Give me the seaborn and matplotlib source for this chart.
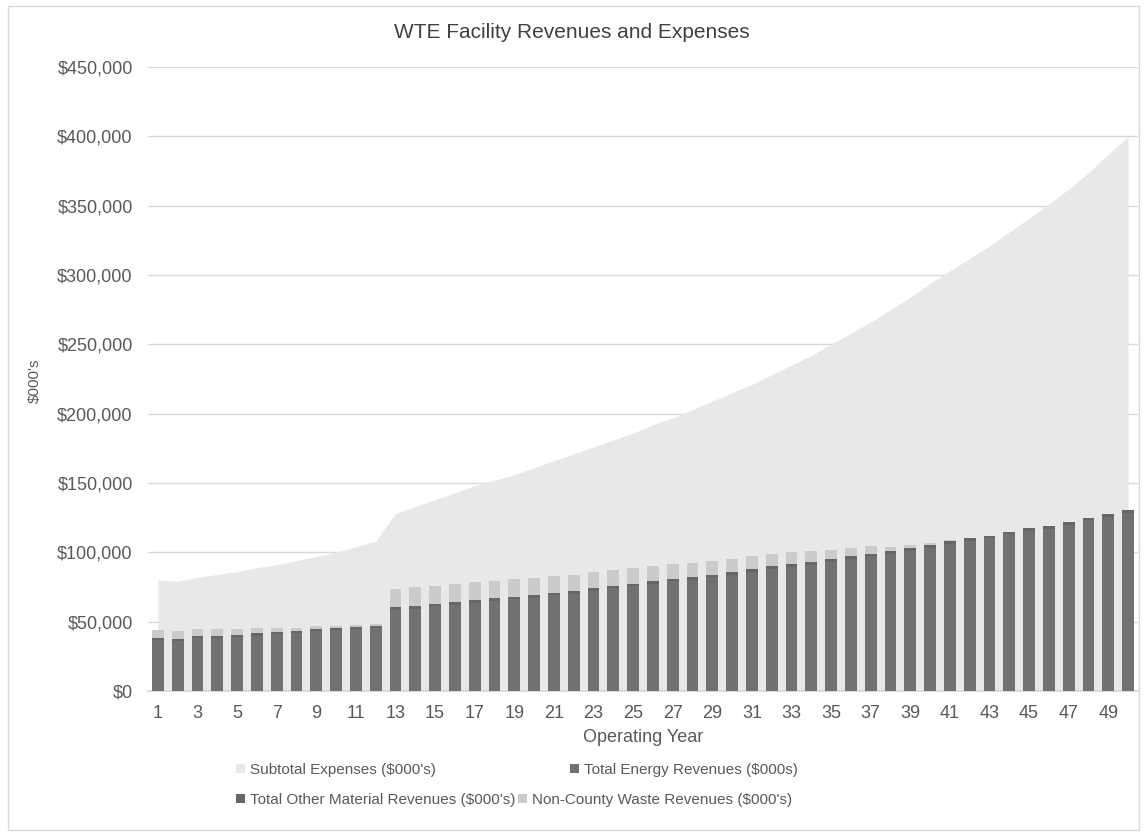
import numpy as np
import pandas as pd
import seaborn as sns
import matplotlib.pyplot as plt
from matplotlib.patches import Patch, Rectangle
from matplotlib.ticker import StrMethodFormatter

# values in $000's
years = list(range(1, 51))
subtotal_expenses = [80000, 79000, 82000, 84000, 86000, 89000, 91000, 94000, 97000, 100000,
                     104000, 108000, 128000, 133000, 138000, 143000, 148000, 152000, 156000, 161000,
                     166000, 171000, 176000, 181000, 186000, 192000, 197000, 203000, 209000, 215000,
                     221000, 228000, 235000, 242000, 250000, 258000, 266000, 275000, 284000, 294000,
                     303000, 312000, 321000, 331000, 341000, 351000, 362000, 374000, 387000, 400000]
energy_revenues = [36500, 36000, 38500, 38500, 39000, 40000, 41000, 41500, 43500, 44000,
                   44500, 45500, 58500, 59000, 61000, 62000, 63500, 65000, 66000, 67000,
                   69000, 70000, 72000, 74000, 75500, 77000, 79000, 80000, 82000, 84000,
                   86000, 88000, 89500, 91000, 93000, 95000, 97000, 99000, 101000, 103000,
                   106000, 108000, 110000, 113000, 115500, 117000, 120000, 123000, 125500, 128500]
other_material_revenues = [1500, 1500, 1500, 1500, 1500, 1500, 1500, 1500, 1500, 1500,
                           1500, 1500, 2000, 2000, 2000, 2000, 2000, 2000, 2000, 2000,
                           2000, 2000, 2000, 2000, 2000, 2000, 2000, 2000, 2000, 2000,
                           2000, 2000, 2000, 2000, 2000, 2000, 2000, 2000, 2000, 2000,
                           2000, 2000, 2000, 2000, 2000, 2000, 2000, 2000, 2000, 2000]
non_county_revenues = [6000, 6000, 5000, 5000, 4500, 4000, 3000, 2500, 2000, 1500,
                       1500, 1000, 13000, 14000, 13000, 13000, 13000, 12500, 12500, 12500,
                       12000, 12000, 12000, 11500, 11500, 11000, 10500, 10500, 10000, 9500,
                       9000, 8500, 8500, 8000, 7000, 6000, 5500, 3000, 2000, 1500,
                       1000, 0, 0, 0, 0, 0, 0, 0, 0, 0]

df = pd.DataFrame({
    "year": years,
    "expenses": subtotal_expenses,
    "energy": energy_revenues,
    "other": other_material_revenues,
    "noncounty": non_county_revenues,
})
df["top_other"] = df["energy"] + df["other"]
df["top_all"] = df["top_other"] + df["noncounty"]

c_area = "#e8e8e8"
c_energy = "#717171"
c_other = "#666666"
c_noncounty = "#cbcbcb"
txt = "#595959"

sns.set_theme(style="white")
plt.rcParams["font.family"] = ["Liberation Sans", "DejaVu Sans"]

fig = plt.figure(figsize=(11.45, 8.36), dpi=100)
ax = fig.add_axes([148 / 1145, 1 - 691 / 836, 990 / 1145, 624 / 836])

ax.fill_between(df["year"], df["expenses"], color=c_area, lw=0, zorder=1)

# stacked bars drawn as cumulative totals, back to front
sns.barplot(data=df, x="year", y="top_all", native_scale=True, color=c_noncounty,
            width=0.6, saturation=1, edgecolor="none", ax=ax, zorder=2)
sns.barplot(data=df, x="year", y="top_other", native_scale=True, color=c_other,
            width=0.6, saturation=1, edgecolor="none", ax=ax, zorder=3)
sns.barplot(data=df, x="year", y="energy", native_scale=True, color=c_energy,
            width=0.6, saturation=1, edgecolor="none", ax=ax, zorder=4)

ax.set_xlim(0.5, 50.5)
ax.set_ylim(0, 450000)
ax.set_yticks(np.arange(0, 450001, 50000))
ax.yaxis.set_major_formatter(StrMethodFormatter("${x:,.0f}"))
ax.set_xticks(years[::2])
ax.set_xticklabels([str(y) for y in years[::2]])
ax.grid(axis="y", color="#d9d9d9", lw=1, zorder=0)
ax.set_axisbelow(True)
for s in ["top", "right", "left"]:
    ax.spines[s].set_visible(False)
ax.spines["bottom"].set_color("#d9d9d9")
ax.tick_params(axis="both", length=0, labelsize=13, labelcolor=txt)
ax.tick_params(axis="x", pad=10)
ax.tick_params(axis="y", pad=11)

ax.set_xlabel("Operating Year", fontsize=13, color=txt, labelpad=5)
ax.set_ylabel("")
fig.text(35 / 1145, 1 - 381 / 836, "$000's", rotation=90, fontsize=11, color=txt,
         ha="center", va="center")
fig.text(572 / 1145, 1 - 32 / 836, "WTE Facility Revenues and Expenses", fontsize=15,
         color="#404040", ha="center", va="center")

# Excel-style flowing legend: two rows, not column aligned
row1 = [
    Patch(facecolor=c_area, edgecolor="none", hatch="...", label="Subtotal Expenses ($000's)"),
    Patch(facecolor=c_energy, edgecolor="none", label="Total Energy Revenues ($000s)"),
]
row2 = [
    Patch(facecolor=c_other, edgecolor="none", label="Total Other Material Revenues ($000's)"),
    Patch(facecolor=c_noncounty, edgecolor="none", label="Non-County Waste Revenues ($000's)"),
]
leg_kw = dict(loc="center left", ncol=2, frameon=False, fontsize=11, handlelength=0.6,
              handleheight=0.6, handletextpad=0.3, labelcolor=txt, borderpad=0, borderaxespad=0)
fig.legend(handles=row1, bbox_to_anchor=(236 / 1145, 1 - 770 / 836), columnspacing=8.8, **leg_kw)
fig.legend(handles=row2, bbox_to_anchor=(236 / 1145, 1 - 800 / 836), columnspacing=0.2, **leg_kw)

fig.patches.append(Rectangle((8 / 1145, 6 / 836), 1 - 14 / 1145, 1 - 12 / 836,
                             transform=fig.transFigure, fill=False, edgecolor="#d9d9d9", lw=1))

fig.savefig("out.png", dpi=100)
